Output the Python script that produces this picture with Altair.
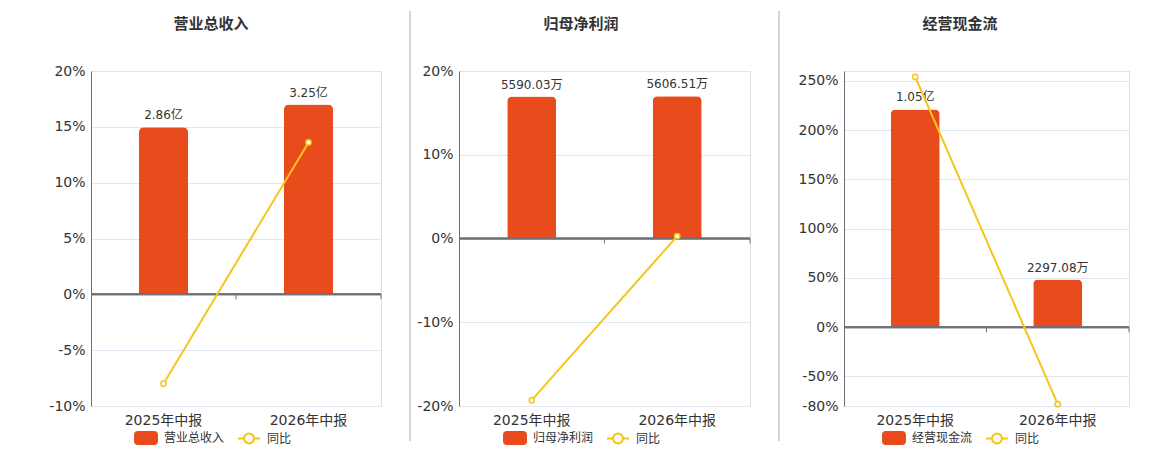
import altair as alt
import pandas as pd

FONT = "DejaVu Sans, Noto Sans CJK SC, sans-serif"
RED = "#E84C1D"
YELLOW = "#F5C518"
AXIS = "#6E7079"
GRID = "#E0E6F1"
TEXT = "#333333"

periods = ["2025年中报", "2026年中报"]

titles = ["营业总收入", "归母净利润", "经营现金流"]
bar_values = [[2.86, 3.25], [5590.03, 5606.51], [10500.0, 2297.08]]
bar_labels = [["2.86亿", "3.25亿"], ["5590.03万", "5606.51万"], ["1.05亿", "2297.08万"]]
yoy_values = [[-8.0, 13.6], [-19.3, 0.29], [254.0, -78.1]]

pct_domains = [[-10, 20], [-20, 20], [-80, 260]]
pct_ticks = [[-10, -5, 0, 5, 10, 15, 20], [-20, -10, 0, 10, 20],
             [-80, -50, 0, 50, 100, 150, 200, 250, 260]]
hidden_tick = [None, None, 260]

plot_widths = [290, 291, 285]
divider_x = [-82, -49, -65]
divider_color = ["#FFFFFF", "#A8A8A8", "#A8A8A8"]
title_x = [120, 122, 116]
legend_x = [43, 44, 38]
PLOT_H = 335

RECT_PATH = ("M-0.727,-0.545 H0.727 A0.273,0.273 0 0 1 1,-0.273 V0.273 "
             "A0.273,0.273 0 0 1 0.727,0.545 H-0.727 A0.273,0.273 0 0 1 -1,0.273 "
             "V-0.273 A0.273,0.273 0 0 1 -0.727,-0.545 Z")
LINE_PATH = ("M-1,0 H-0.45 M0.45,0 H1 M0.45,0 A0.45,0.45 0 1 1 -0.45,0 "
             "A0.45,0.45 0 1 1 0.45,0 Z")


def panel(i):
    df = pd.DataFrame({
        "period": periods,
        "bar": bar_values[i],
        "label": bar_labels[i],
        "yoy": yoy_values[i],
    })
    lo, hi = pct_domains[i]
    bar_hi = max(bar_values[i]) / 0.85
    bar_lo = bar_hi * lo / hi
    bar_scale = alt.Scale(domain=[bar_lo, bar_hi], nice=False, zero=False)
    pct_scale = alt.Scale(domain=[lo, hi], nice=False, zero=False)

    xscale = alt.Scale(paddingInner=0, paddingOuter=0)
    xaxis = alt.Axis(title=None, domain=False, ticks=False, tickSize=0, grid=False,
                     labelAngle=0, labelFontSize=14, labelColor=TEXT, labelPadding=7,
                     labelFont=FONT)
    X = alt.X("period:N", sort=periods, scale=xscale, axis=xaxis)

    hid = hidden_tick[i]
    expr = "datum.value + '%'" if hid is None else f"datum.value == {hid} ? '' : datum.value + '%'"
    yaxis = alt.Axis(title=None, values=pct_ticks[i], labelExpr=expr, grid=True,
                     gridColor=GRID, gridWidth=1, domain=True, domainColor=AXIS,
                     ticks=False, tickSize=0, labelPadding=6, labelFontSize=14,
                     labelColor=TEXT, labelFont=FONT)

    base = alt.Chart(df)

    bars = base.mark_bar(color=RED, size=49, cornerRadiusTopLeft=5,
                         cornerRadiusTopRight=5).encode(
        x=X, y=alt.Y("bar:Q", scale=bar_scale, axis=None))
    labels = base.mark_text(baseline="bottom", dy=-5, fontSize=12, color=TEXT,
                            font=FONT).encode(
        x=X, y=alt.Y("bar:Q", scale=bar_scale, axis=None), text="label:N")

    grid_layer = base.mark_line(opacity=0).encode(
        x=X, y=alt.Y("yoy:Q", scale=pct_scale, axis=yaxis))
    zero = base.mark_rule(color=AXIS, strokeWidth=2).encode(
        y=alt.Y(datum=0, scale=pct_scale, axis=None))
    ticks = base.mark_tick(orient="vertical", size=5, thickness=1, yOffset=2.5,
                           color=AXIS, opacity=1).encode(
        x=alt.X("period:N", sort=periods, scale=xscale, axis=xaxis, bandPosition=1),
        y=alt.Y(datum=0, scale=pct_scale, axis=None))
    line = base.mark_line(color=YELLOW, strokeWidth=2).encode(
        x=X, y=alt.Y("yoy:Q", scale=pct_scale, axis=None))
    pts = base.mark_point(filled=True, fill="white", stroke=YELLOW, strokeWidth=1.5,
                          size=28, opacity=1).encode(
        x=X, y=alt.Y("yoy:Q", scale=pct_scale, axis=None))

    title = alt.Chart(pd.DataFrame({"t": [titles[i]]})).mark_text(
        fontSize=15, fontWeight="bold", color=TEXT, font=FONT, baseline="middle",
        align="center").encode(text="t:N", x=alt.value(title_x[i]), y=alt.value(-47))
    divider = alt.Chart(pd.DataFrame({"d": [0]})).mark_rule(
        color=divider_color[i], strokeWidth=1).encode(
        x=alt.value(divider_x[i]), y=alt.value(-60), y2=alt.value(370))

    names = [titles[i], "同比"]
    leg = alt.Legend(orient="none", legendX=legend_x[i], legendY=PLOT_H + 20,
                     direction="horizontal", title=None, symbolSize=484,
                     labelFontSize=12, labelColor=TEXT, labelFont=FONT, labelOffset=6,
                     columnPadding=9, symbolStrokeWidth=2, symbolOpacity=1, padding=0)
    legend_df = pd.DataFrame({"s": names})
    legend_layer = alt.Chart(legend_df).transform_filter("false").mark_point(
        filled=True, strokeWidth=2, opacity=1).encode(
        fill=alt.Fill("s:N", sort=names, scale=alt.Scale(domain=names, range=[RED, "#FFFFFF"]), legend=leg),
        stroke=alt.Stroke("s:N", sort=names, scale=alt.Scale(domain=names, range=[RED, YELLOW]), legend=leg),
        shape=alt.Shape("s:N", sort=names, scale=alt.Scale(domain=names, range=[RECT_PATH, LINE_PATH]), legend=leg),
    )

    layered = alt.layer(grid_layer, bars, labels, zero, ticks, line, pts,
                        title, divider, legend_layer).resolve_scale(
        y="independent").properties(width=plot_widths[i], height=PLOT_H)
    return layered


chart = alt.hconcat(panel(0), panel(1), panel(2), spacing=26).resolve_scale(
    fill="independent", stroke="independent", shape="independent",
    x="independent", y="independent").resolve_legend(
    fill="independent", stroke="independent", shape="independent").properties(
    padding={"left": 0, "top": 2, "right": 5, "bottom": 0}).configure_view(
    stroke=None).configure(font=FONT)

chart.save("out.html", embed_options={"renderer": "svg", "actions": False})
